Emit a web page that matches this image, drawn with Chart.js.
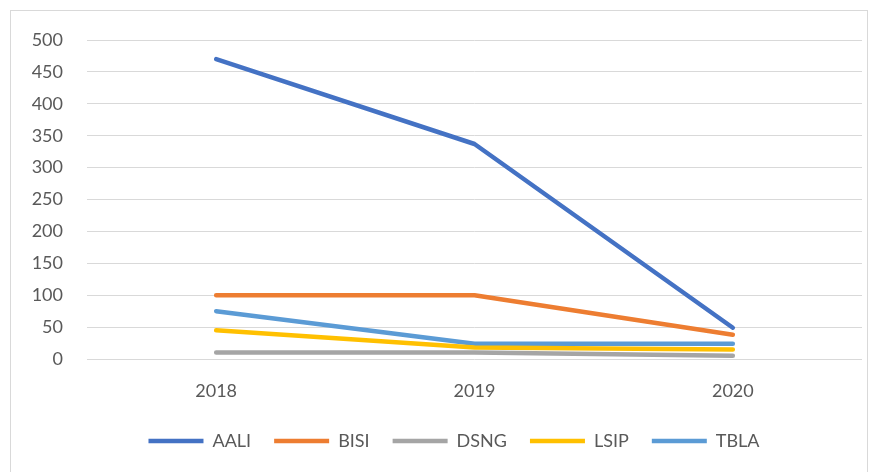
<!DOCTYPE html>
<html>
<head>
<meta charset="utf-8">
<script src="https://cdn.jsdelivr.net/npm/chart.js@4.4.1/dist/chart.umd.min.js"></script>
<style>
  html, body { margin: 0; padding: 0; background: #fff; }
  #wrap { position: relative; width: 878px; height: 472px; }
</style>
</head>
<body>
<div id="wrap"><canvas id="myChart" width="878" height="472"></canvas></div>
<script>
const years = ['2018', '2019', '2020'];
const aali = [470, 337, 49];
const bisi = [100, 100, 38];
const dsng = [10, 10, 5];
const lsip = [45, 18, 15];
const tbla = [75, 24, 24];
const yTicks = [0, 50, 100, 150, 200, 250, 300, 350, 400, 450, 500];

const font = "Lato, 'Open Sans', sans-serif";

// thin frame round the chart, like the Excel chart border
const frame = {
    id: 'frame',
    beforeDraw(c) {
        const ctx = c.ctx;
        ctx.save();
        ctx.fillStyle = '#fff';
        ctx.fillRect(0, 0, c.width, c.height);
        ctx.strokeStyle = '#d9d9d9';
        ctx.lineWidth = 1;
        ctx.strokeRect(10.5, 10.5, 857, 470);
        ctx.restore();
    },
    // legend in the reference sits centred under the plot, not the canvas
    afterLayout(c) {
        if (c.legend) c.legend.left = 46;
    }
};

function line(label, data, color) {
    return {
        label: label,
        data: data,
        borderColor: color,
        backgroundColor: color,
        borderWidth: 4.5,
        borderCapStyle: 'round',
        borderJoinStyle: 'round',
        pointRadius: 0,
        pointHoverRadius: 0,
        tension: 0,
        fill: false
    };
}

let chart = document.getElementById('myChart').getContext('2d');
let myChart = new Chart(chart, {
    type: 'line',
    data: {
        labels: years,
        datasets: [
            line('AALI', aali, '#4472C4'),
            line('BISI', bisi, '#ED7D31'),
            line('DSNG', dsng, '#A5A5A5'),
            line('LSIP', lsip, '#FFC000'),
            line('TBLA', tbla, '#5B9BD5')
        ]
    },
    options: {
        responsive: false,
        animation: false,
        layout: { padding: { left: 0, right: 16, top: 40, bottom: 12 } },
        plugins: {
            tooltip: { enabled: false },
            legend: {
                position: 'bottom',
                labels: {
                    usePointStyle: true,
                    pointStyle: 'line',
                    pointStyleWidth: 55,
                    padding: 23,
                    color: '#595959',
                    font: { family: font, size: 18 }
                }
            }
        },
        scales: {
            x: {
                offset: true,
                grid: { display: false, drawTicks: false },
                border: { display: false },
                ticks: { color: '#595959', padding: 21, font: { family: font, size: 18 } },
                afterFit(s) { s.height = 50; }
            },
            y: {
                min: 0,
                max: 500,
                afterBuildTicks(s) { s.ticks = yTicks.map(v => ({ value: v })); },
                grid: { color: '#d9d9d9', lineWidth: 1, drawTicks: false },
                border: { display: false },
                ticks: { color: '#595959', padding: 24, font: { family: font, size: 18 } },
                afterFit(s) { s.width = 87; }
            }
        }
    },
    plugins: [frame]
});
</script>
</body>
</html>
